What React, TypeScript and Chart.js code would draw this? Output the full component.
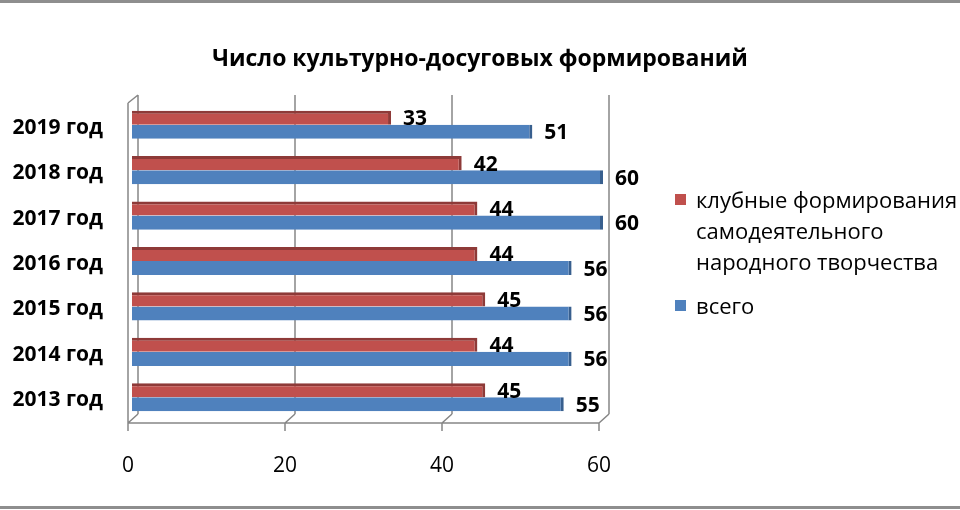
import React, { useEffect, useRef } from "react";
import { Chart, registerables, layouts } from "chart.js";

Chart.register(...registerables);

const TITLE = "Число культурно-досуговых формирований";
const categories = ["2019 год", "2018 год", "2017 год", "2016 год", "2015 год", "2014 год", "2013 год"];
const clubLegendLines = ["клубные формирования", "самодеятельного", "народного творчества"];
const totalLegendLines = ["всего"];
const clubValues = [33, 42, 44, 44, 45, 44, 45];
const totalValues = [51, 60, 60, 56, 56, 56, 55];
const xTickValues = [0, 20, 40, 60];

const FONT = "'Open Sans', 'Noto Sans', sans-serif";
const RED = "#C0504D";
const RED_DARK = "#8E3A38";
const BLUE = "#4F81BD";
const BLUE_DARK = "#385F8E";
const GRID = "#868686";
const SIDE_W = 357;

const legendLines = [clubLegendLines, totalLegendLines];

const framePlugin = {
  id: "frame",
  beforeDraw(chart: any) {
    const { ctx, width, height } = chart;
    ctx.save();
    ctx.fillStyle = "#ffffff";
    ctx.fillRect(0, 0, width, height);
    ctx.fillStyle = "#8E8E8E";
    ctx.fillRect(0, 0, width, 3);
    ctx.fillRect(0, height - 4, width, 3);
    ctx.restore();
  },
};

const wallPlugin = {
  id: "wall3d",
  beforeDatasetsDraw(chart: any) {
    const { ctx, chartArea, scales } = chart;
    const x = scales.x;
    const top = chartArea.top;
    const bottom = chartArea.bottom;
    const fo = -4;
    const bo = 6;
    const dy = 8;
    ctx.save();
    ctx.strokeStyle = GRID;
    ctx.lineWidth = 1.5;
    ctx.beginPath();
    xTickValues.forEach((v) => {
      const px = x.getPixelForValue(v);
      ctx.moveTo(px + bo, top - dy + 1);
      ctx.lineTo(px + bo, bottom - 6);
      ctx.moveTo(px + bo, bottom - 6);
      ctx.lineTo(px + fo, bottom + 3);
      ctx.moveTo(px + fo, bottom + 3);
      ctx.lineTo(px + fo, bottom + 11);
    });
    const p0 = x.getPixelForValue(xTickValues[0]);
    const pN = x.getPixelForValue(xTickValues[xTickValues.length - 1]);
    ctx.moveTo(p0 + fo, bottom + 3);
    ctx.lineTo(pN + fo, bottom + 3);
    ctx.moveTo(p0 + fo, top + 1);
    ctx.lineTo(p0 + fo, bottom + 3);
    ctx.moveTo(p0 + fo, top + 1);
    ctx.lineTo(p0 + bo, top - dy + 1);
    ctx.stroke();
    ctx.restore();
  },
};

const valueLabelPlugin = {
  id: "valueLabels",
  afterDatasetsDraw(chart: any) {
    const { ctx } = chart;
    ctx.save();
    ctx.font = `bold 21px ${FONT}`;
    ctx.fillStyle = "#000000";
    ctx.textAlign = "left";
    ctx.textBaseline = "middle";
    chart.data.datasets.forEach((ds: any, di: number) => {
      const meta = chart.getDatasetMeta(di);
      meta.data.forEach((el: any, i: number) => {
        ctx.fillText(String(ds.data[i]), el.x + 12, el.y + 1.5);
      });
    });
    ctx.restore();
  },
};

const sideLegendPlugin = {
  id: "sideLegend",
  beforeInit(chart: any) {
    const box: any = {
      position: "right",
      weight: 100,
      fullSize: false,
      options: { stackWeight: 1 },
      left: 0,
      top: 0,
      right: 0,
      bottom: 0,
      width: 0,
      height: 0,
      isHorizontal() {
        return false;
      },
      getPadding() {
        return { top: 0, left: 0, right: 0, bottom: 0 };
      },
      update(_maxWidth: number, maxHeight: number) {
        box.width = SIDE_W;
        box.height = maxHeight;
      },
      draw() {
        const ctx = chart.ctx;
        const area = chart.chartArea;
        const x0 = box.left + 72;
        const lineH = 31;
        const groupGap = 13;
        let y = area.top + 98;
        ctx.save();
        ctx.font = `22px ${FONT}`;
        ctx.textAlign = "left";
        ctx.textBaseline = "middle";
        chart.data.datasets.forEach((ds: any, di: number) => {
          const lines = legendLines[di];
          ctx.fillStyle = ds.backgroundColor;
          ctx.fillRect(x0, y - 6, 11, 11);
          ctx.fillStyle = "#000000";
          lines.forEach((ln: string, li: number) => {
            ctx.fillText(ln, x0 + 21, y + 1.5 + li * lineH);
          });
          y += lines.length * lineH + groupGap;
        });
        ctx.restore();
      },
    };
    layouts.addBox(chart, box);
  },
};

export default function App() {
  const ref = useRef<HTMLCanvasElement | null>(null);

  useEffect(() => {
    document.body.style.margin = "0";
    if (!ref.current) return;
    const chart = new Chart(ref.current, {
      type: "bar",
      data: {
        labels: categories,
        datasets: [
          {
            label: clubLegendLines.join(" "),
            data: clubValues,
            backgroundColor: RED,
            borderColor: RED_DARK,
            borderWidth: { top: 3, right: 3, bottom: 0, left: 0 },
            borderSkipped: "start",
          },
          {
            label: totalLegendLines.join(" "),
            data: totalValues,
            backgroundColor: BLUE,
            borderColor: BLUE_DARK,
            borderWidth: { top: 0, right: 3, bottom: 0, left: 0 },
            borderSkipped: "start",
          },
        ],
      },
      options: {
        indexAxis: "y",
        responsive: false,
        animation: false,
        devicePixelRatio: 1,
        datasets: {
          bar: { barPercentage: 1, categoryPercentage: 0.62 },
        },
        layout: { padding: 0 },
        scales: {
          x: {
            type: "linear",
            min: 0,
            max: 60,
            grid: { display: false, drawTicks: false },
            border: { display: false },
            afterBuildTicks(scale: any) {
              scale.ticks = xTickValues.map((v) => ({ value: v }));
            },
            afterFit(scale: any) {
              scale.height = 90;
            },
            ticks: {
              font: { family: FONT, size: 21 },
              color: "#000000",
              padding: 33,
              labelOffset: -4,
              maxRotation: 0,
            },
          },
          y: {
            type: "category",
            grid: { display: false, drawTicks: false },
            border: { display: false },
            afterFit(scale: any) {
              scale.width = 132;
            },
            ticks: {
              font: { family: FONT, size: 21, weight: "bold" },
              color: "#000000",
              padding: 29,
              labelOffset: 3,
            },
          },
        },
        plugins: {
          legend: { display: false },
          tooltip: { enabled: false },
          title: {
            display: true,
            text: TITLE,
            color: "#000000",
            font: { family: FONT, size: 23, weight: "bold" },
            padding: { top: 46, bottom: 28.4 },
          },
        },
      } as any,
      plugins: [framePlugin, wallPlugin, valueLabelPlugin, sideLegendPlugin],
    });
    return () => chart.destroy();
  }, []);

  return (
    <div style={{ width: 960, height: 510 }}>
      <canvas ref={ref} width={960} height={510} style={{ display: "block" }} />
    </div>
  );
}
